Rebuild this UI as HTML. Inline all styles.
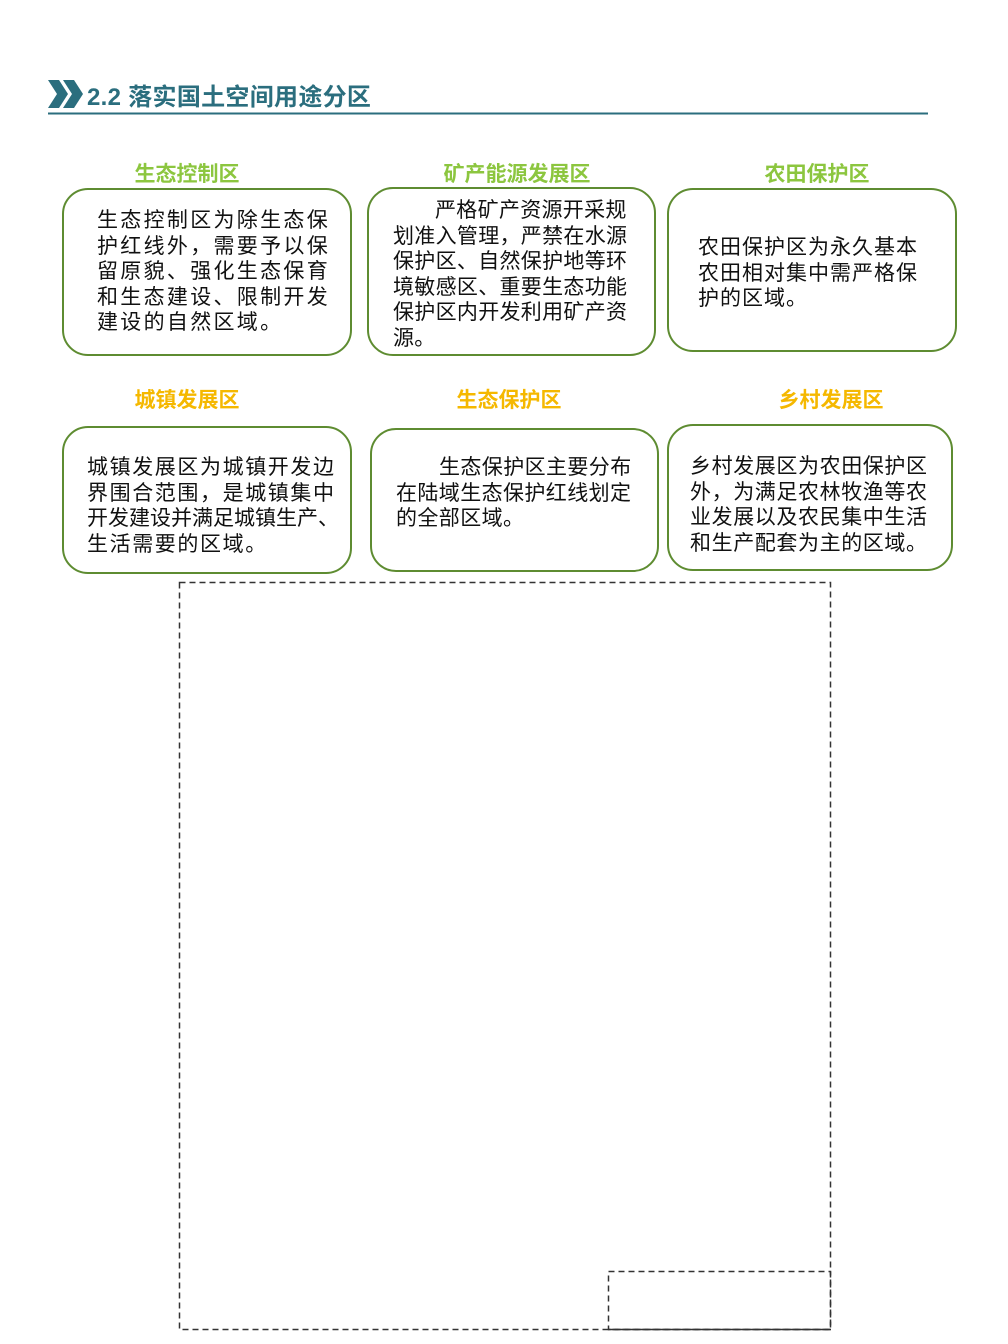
<!DOCTYPE html>
<html><head><meta charset="utf-8"><style>
body{margin:0;width:1008px;height:1344px;background:#fff;position:relative;overflow:hidden;font-family:"Liberation Sans","Noto Sans CJK SC",sans-serif}
.box{position:absolute;border:2px solid #5e8c31;border-radius:26px;box-sizing:border-box}
.t{position:absolute;font-weight:bold;font-size:21px;transform:translateX(-50%);white-space:nowrap;line-height:24px}
.g{color:#8cc63f}.o{color:#f5b800}
.tx{position:absolute;font-size:21px;line-height:25.5px;color:#111;white-space:nowrap}
</style></head><body>
<svg style="position:absolute;left:0;top:0" width="1008" height="1344">
<polygon points="48,80 59,80 68,94 59,108 48,108 57,94" fill="#2b6e7e"/>
<polygon points="63,80 74,80 83,94 74,108 63,108 72,94" fill="#2b6e7e"/>
<line x1="48" y1="113.5" x2="928" y2="113.5" stroke="#2b6e7e" stroke-width="2"/>
<rect x="179.5" y="582.5" width="651" height="747" fill="none" stroke="#333" stroke-width="1.5" stroke-dasharray="6,4"/>
<rect x="608.5" y="1271.5" width="222" height="58" fill="none" stroke="#333" stroke-width="1.5" stroke-dasharray="6,4"/>
<line x1="608" y1="1329.5" x2="831" y2="1329.5" stroke="#333" stroke-width="1.5"/>
</svg>
<div style="position:absolute;left:87px;top:83px;font-size:24px;font-weight:bold;color:#2b6e7e;line-height:30px;white-space:nowrap;letter-spacing:0.3px">2.2 落实国土空间用途分区</div>

<div class="t g" style="left:187px;top:163px">生态控制区</div>
<div class="t g" style="left:517px;top:163px">矿产能源发展区</div>
<div class="t g" style="left:817px;top:163px">农田保护区</div>
<div class="t o" style="left:187px;top:389px">城镇发展区</div>
<div class="t o" style="left:509px;top:389px">生态保护区</div>
<div class="t o" style="left:831px;top:389px">乡村发展区</div>

<div class="box" style="left:62px;top:188px;width:290px;height:168px"></div>
<div class="box" style="left:367px;top:187px;width:289px;height:169px"></div>
<div class="box" style="left:667px;top:188px;width:290px;height:164px"></div>
<div class="box" style="left:62px;top:426px;width:290px;height:148px"></div>
<div class="box" style="left:370px;top:428px;width:289px;height:144px"></div>
<div class="box" style="left:667px;top:424px;width:286px;height:147px"></div>

<div class="tx" style="left:97px;top:208px;letter-spacing:2.3px">生态控制区为除生态保<br>护红线外，需要予以保<br>留原貌、强化生态保育<br>和生态建设、限制开发<br>建设的自然区域。</div>
<div class="tx" style="left:393px;top:198px;letter-spacing:0.3px"><span style="padding-left:42px">严格矿产资源开采规</span><br>划准入管理，严禁在水源<br>保护区、自然保护地等环<br>境敏感区、重要生态功能<br>保护区内开发利用矿产资<br>源。</div>
<div class="tx" style="left:698px;top:235px;letter-spacing:1px">农田保护区为永久基本<br>农田相对集中需严格保<br>护的区域。</div>
<div class="tx" style="left:87px;top:455px;letter-spacing:1.6px">城镇发展区为城镇开发边<br>界围合范围，是城镇集中<br><span style="letter-spacing:0">开发建设并满足城镇生产、</span><br>生活需要的区域。</div>
<div class="tx" style="left:396px;top:455px;letter-spacing:0.4px"><span style="padding-left:43px">生态保护区主要分布</span><br>在陆域生态保护红线划定<br>的全部区域。</div>
<div class="tx" style="left:690px;top:454px;letter-spacing:0.6px">乡村发展区为农田保护区<br>外，为满足农林牧渔等农<br>业发展以及农民集中生活<br>和生产配套为主的区域。</div>
</body></html>
